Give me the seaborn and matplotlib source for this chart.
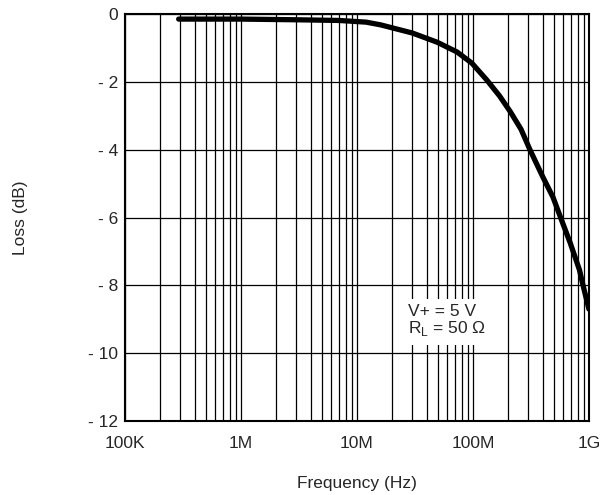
import numpy as np
import pandas as pd
import matplotlib
matplotlib.use('Agg')
import matplotlib.pyplot as plt
from matplotlib.ticker import LogLocator, FixedLocator, NullFormatter
import seaborn as sns

# values
freq_hz = [2.9e5, 1e6, 3e6, 7e6, 1.2e7, 1.6e7, 3e7, 4.9e7, 7.3e7, 9.8e7,
           1.32e8, 1.7e8, 2.1e8, 2.6e8, 3.1e8, 4e8, 4.9e8, 5.7e8, 6.9e8,
           8.3e8, 8.9e8, 1e9]
loss_db = [-0.15, -0.15, -0.17, -0.19, -0.24, -0.32, -0.56, -0.83, -1.12, -1.45,
           -1.95, -2.42, -2.88, -3.4, -4.0, -4.8, -5.4, -6.0, -6.75,
           -7.55, -8.0, -8.7]
x_ticks = [1e5, 1e6, 1e7, 1e8, 1e9]
x_labels = ['100K', '1M', '10M', '100M', '1G']
y_ticks = [0, -2, -4, -6, -8, -10, -12]
y_labels = ['0', '- 2', '- 4', '- 6', '- 8', '- 10', '- 12']

sns.set_style('white')
plt.rcParams['font.family'] = ['Liberation Sans', 'DejaVu Sans']
FS = 12.5

df = pd.DataFrame({'freq': freq_hz, 'loss': loss_db})

fig = plt.figure(figsize=(6.09, 4.95), dpi=100)
ax = fig.add_axes([0.2053, 0.1495, 0.7617, 0.8222])
sns.lineplot(data=df, x='freq', y='loss', ax=ax, color='black', linewidth=3.8,
             solid_capstyle='round', solid_joinstyle='round')

ax.set_xscale('log')
ax.set_xlim(1e5, 1e9)
ax.set_ylim(-12, 0)
ax.xaxis.set_major_locator(FixedLocator(x_ticks))
ax.set_xticklabels(x_labels)
ax.xaxis.set_minor_locator(LogLocator(base=10, subs=np.arange(2, 10)))
ax.xaxis.set_minor_formatter(NullFormatter())
ax.set_yticks(y_ticks)
ax.set_yticklabels(y_labels)

ax.grid(True, which='both', axis='x', color='black', linewidth=0.9)
ax.grid(True, which='major', axis='y', color='black', linewidth=0.9)
ax.tick_params(axis='both', which='both', length=0, labelsize=FS)
ax.tick_params(axis='x', pad=11)
ax.tick_params(axis='y', pad=5)
for s in ax.spines.values():
    s.set_color('black')
    s.set_linewidth(1.5)

ax.set_xlabel('Frequency (Hz)', fontsize=FS)
ax.set_ylabel('Loss (dB)', fontsize=FS)
ax.xaxis.set_label_coords(0.5, -0.135)
ax.yaxis.set_label_coords(-0.209, 0.5)

ax.text(2.75e7, -9.05, 'V+ = 5 V\nR$_\\mathregular{L}$ = 50 \u03a9', fontsize=FS,
        va='center', ha='left', linespacing=1.0,
        bbox=dict(facecolor='white', edgecolor='none', pad=5))

plt.savefig('out.png', dpi=100)
